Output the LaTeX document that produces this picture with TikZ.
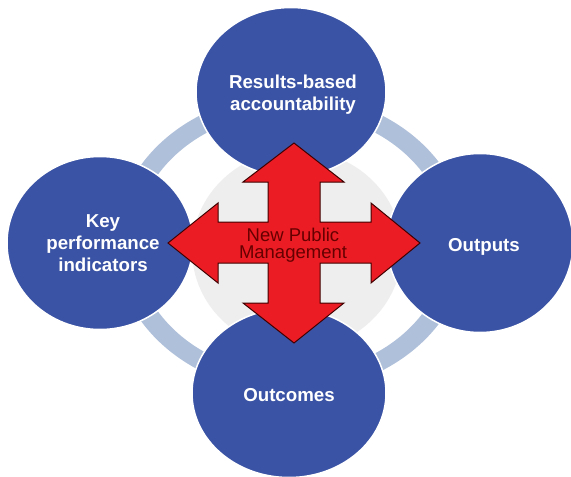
\documentclass[tikz,border=0pt]{standalone}
\usetikzlibrary{shapes.geometric}
\usepackage{fontspec}
\setmainfont{Liberation Sans}
\definecolor{disc}{HTML}{3A53A4}
\definecolor{ringc}{HTML}{AFC0DA}
\definecolor{centerc}{HTML}{EEEEEE}
\definecolor{arrowc}{HTML}{EC1C24}
\tikzset{
 disc/.style={ellipse,fill=disc,draw=white,line width=1.5pt,inner sep=0pt},
 disclabel/.style={text=white,align=center,font=\bfseries\fontsize{18.7}{22}\selectfont},
}
\begin{document}
\begin{tikzpicture}[x=1pt,y=-1pt]
\useasboundingbox (0,0) rectangle (571,477);
\fill[white] (0,0) rectangle (571,477);
\fill[ringc,even odd rule] (291,243) ellipse [x radius=176,y radius=149] (291,243) ellipse [x radius=156,y radius=131];
\fill[centerc] (297,250) ellipse [x radius=105,y radius=100];
\node[disc,minimum width=190pt,minimum height=169pt] (top) at (291,92) {};
\node[disc,minimum width=186pt,minimum height=173pt] (left) at (100,243) {};
\node[disc,minimum width=186pt,minimum height=179pt] (right) at (480,243) {};
\node[disc,minimum width=194pt,minimum height=169pt] (bottom) at (289,393) {};
\node[disclabel] (toplab) at (293,95) {Results-based\\accountability};
\node[disclabel] (leftlab) at (103,243) {Key\\performance\\indicators};
\node[disclabel] (rightlab) at (484,247) {Outputs};
\node[disclabel] (bottomlab) at (289,395) {Outcomes};
\draw[black!75!red,fill=arrowc,line width=1pt,line join=miter]
 (294,143)--(344,182)--(320,182)--(320,222)--(371,222)--(371,203)--(420,243)--(371,283)--(371,263)--(320,263)--(320,303)--(344,303)--(294,343)--(243,303)--(268,303)--(268,263)--(218,263)--(218,283)--(168,243)--(218,203)--(218,222)--(268,222)--(268,182)--(243,182)--cycle;
\node[font=\fontsize{18.5}{17}\selectfont,align=center,text=black!60!red] (lab) at (293,245) {New Public\\Management};
\end{tikzpicture}
\end{document}
